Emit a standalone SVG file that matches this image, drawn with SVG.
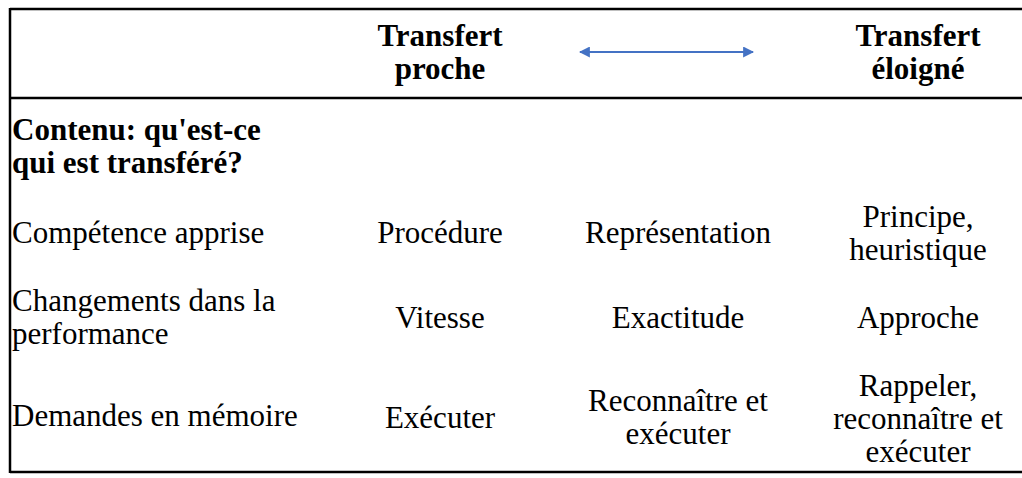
<svg xmlns="http://www.w3.org/2000/svg" width="1022" height="478" viewBox="0 0 1022 478">
  <style>
    .rule { stroke: #000; stroke-width: 2.5; fill: none; }
    .t { font-family: "Liberation Serif", "Times New Roman", serif; font-size: 31px; fill: #000; }
    .b { font-weight: bold; }
    .c { text-anchor: middle; }
    .link { stroke: #4472C4; stroke-width: 2.2; fill: none; }
  </style>
  <defs>
    <marker id="head" viewBox="0 0 10 10" refX="9" refY="5" markerWidth="11" markerHeight="11" markerUnits="userSpaceOnUse" orient="auto-start-reverse">
      <path d="M0,0 L10,5 L0,10 z" fill="#4472C4"/>
    </marker>
  </defs>

  <!-- table rules -->
  <g id="frame">
    <line class="rule" x1="10" y1="9" x2="1022" y2="9"/>
    <line class="rule" x1="10" y1="98" x2="1022" y2="98"/>
    <line class="rule" x1="10" y1="472" x2="1022" y2="472"/>
    <line class="rule" x1="10" y1="8" x2="10" y2="473"/>
  </g>

  <!-- header -->
  <g id="near-transfer">
    <text class="t b c" x="440" y="46">Transfert</text>
    <text class="t b c" x="440" y="79">proche</text>
  </g>
  <g id="far-transfer">
    <text class="t b c" x="918" y="46">Transfert</text>
    <text class="t b c" x="918" y="79">éloigné</text>
  </g>
  <g id="connectors">
    <line class="link" x1="580" y1="52" x2="753" y2="52" marker-start="url(#head)" marker-end="url(#head)"/>
  </g>

  <!-- section title -->
  <g id="content-title">
    <text class="t b" x="12" y="140">Contenu: qu'est-ce</text>
    <text class="t b" x="12" y="173">qui est transféré?</text>
  </g>

  <!-- row: learned skill -->
  <g id="row-skill">
    <text class="t" x="12" y="243">Compétence apprise</text>
    <text class="t c" x="440" y="243">Procédure</text>
    <text class="t c" x="678" y="243">Représentation</text>
    <text class="t c" x="918" y="227">Principe,</text>
    <text class="t c" x="918" y="260">heuristique</text>
  </g>

  <!-- row: performance changes -->
  <g id="row-performance">
    <text class="t" x="12" y="311">Changements dans la</text>
    <text class="t" x="12" y="344">performance</text>
    <text class="t c" x="440" y="328">Vitesse</text>
    <text class="t c" x="678" y="328">Exactitude</text>
    <text class="t c" x="918" y="328">Approche</text>
  </g>

  <!-- row: memory demands -->
  <g id="row-memory">
    <text class="t" x="12" y="426">Demandes en mémoire</text>
    <text class="t c" x="440" y="428">Exécuter</text>
    <text class="t c" x="678" y="411">Reconnaître et</text>
    <text class="t c" x="678" y="444">exécuter</text>
    <text class="t c" x="918" y="396">Rappeler,</text>
    <text class="t c" x="918" y="429">reconnaître et</text>
    <text class="t c" x="918" y="462">exécuter</text>
  </g>
</svg>
